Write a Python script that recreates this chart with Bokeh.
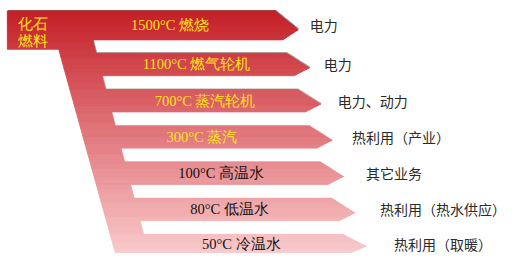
import numpy as np
from bokeh.plotting import figure
from bokeh.models import Range1d
from bokeh.core.properties import value
from bokeh.embed import file_html
from bokeh.resources import INLINE

# ---------------- data ----------------
source_name = ["化石", "燃料"]
temps = ["1500°C", "1100°C", "700°C", "300°C", "100°C", "80°C", "50°C"]
processes = ["燃烧", "燃气轮机", "蒸汽轮机", "蒸汽", "高温水", "低温水", "冷温水"]
uses = ["电力", "电力", "电力、动力", "热利用（产业）", "其它业务", "热利用（热水供应）", "热利用（取暖）"]

n = len(temps)

# ---------------- layout (reference-pixel units, y downward) ----------------
SHAPE_TOP, SHAPE_BOTTOM = 11.0, 268.0
BOX_LEFT, BOX_RIGHT, BOX_BOTTOM = 7.0, 60.0, 52.0
PITCH = 38.5


def band_top(i):
    return SHAPE_TOP if i == 0 else 56.0 + PITCH * (i - 1)


def band_bot(i):
    if i == 0:
        return 42.0
    return min(band_top(i) + 24.0, SHAPE_BOTTOM)


def tip_x(i):
    return 307.0 + 11.7 * i


def tip_y(i):
    return band_top(i) + 0.65 * (band_bot(i) - band_top(i))


def trunk_left(y):
    return BOX_RIGHT + 0.27 * (y - BOX_BOTTOM)


def trunk_right(y):
    return 95.0 + 0.255 * (y - 42.0)


def arrow_right(i, y):
    t, b, ty, tx = band_top(i), band_bot(i), tip_y(i), tip_x(i)
    tr, br = tx - 24.0, tx - 16.0
    if y <= ty:
        return tr + (tx - tr) * (y - t) / (ty - t)
    return tx + (br - tx) * (y - ty) / (b - ty)


breaks = set(np.arange(SHAPE_TOP, SHAPE_BOTTOM + 0.01, 1.0).tolist())
breaks.add(BOX_BOTTOM)
for i in range(n):
    breaks.update([band_top(i), band_bot(i), tip_y(i)])
ys_b = sorted(b for b in breaks if SHAPE_TOP <= b <= SHAPE_BOTTOM)

c_top = np.array([200, 30, 38], dtype=float)
c_bot = np.array([249, 201, 203], dtype=float)

xs_list, ys_list, colors, sh_xs, sh_ys, sh_alpha = [], [], [], [], [], []
for y0, y1 in zip(ys_b[:-1], ys_b[1:]):
    if y1 - y0 < 1e-6:
        continue
    ym = 0.5 * (y0 + y1)
    if ym < BOX_BOTTOM:
        L = lambda y: BOX_LEFT
    else:
        L = trunk_left
    band = None
    for i in range(n):
        if band_top(i) <= ym <= band_bot(i):
            band = i
            break
    if band is None:
        R = trunk_right
    else:
        R = (lambda bi: (lambda y: arrow_right(bi, y)))(band)
    px = [L(y0), R(y0), R(y1), L(y1)]
    py = [y0, y0, y1, y1]
    xs_list.append(px)
    ys_list.append(py)
    t = (ym - SHAPE_TOP) / (SHAPE_BOTTOM - SHAPE_TOP)
    c = c_top + t * (c_bot - c_top)
    colors.append("#%02x%02x%02x" % tuple(int(round(v)) for v in c))
    sh_xs.append([v + 1.0 for v in px])
    sh_ys.append([v - 1.0 for v in py])
    sh_alpha.append(max(0.0, 0.8 * (1 - (ym - SHAPE_TOP) / 150.0)))

p = figure(width=508, height=255, x_range=Range1d(0, 524), y_range=Range1d(271, 0),
           toolbar_location=None, output_backend="svg", min_border=0,
           x_axis_location=None, y_axis_location=None)
p.grid.visible = False
p.outline_line_color = None
p.background_fill_color = "white"

p.patches(xs=sh_xs, ys=sh_ys, fill_color="#3a3a3a", fill_alpha=sh_alpha, line_color=None)
p.patches(xs=xs_list, ys=ys_list, fill_color=colors, line_color=colors, line_width=0.6)

YELLOW = "#FFE21C"
FS = "14.5px"
# source label
p.text(x=[18, 18], y=[25, 43], text=source_name, text_font=value("Liberation Serif"),
       text_font_size=FS, text_color=YELLOW, text_baseline="middle", text_align="left")

centers = [0.5 * (band_top(i) + band_bot(i)) if i == 0 else band_top(i) + 12.0 for i in range(n)]
centers[-1] -= 2.0
band_labels = [f"{t} {q}" for t, q in zip(temps, processes)]
label_x = [134.6 + 12.2 * i for i in range(n)]
label_colors = [YELLOW if i < 4 else "#111111" for i in range(n)]
p.text(x=label_x, y=centers, text=band_labels, text_font=value("Liberation Serif"),
       text_font_size=FS, text_color=label_colors, text_baseline="middle", text_align="left")

use_x = [319 + 14.5 * i for i in range(n)]
p.text(x=use_x, y=centers, text=uses, text_font=value("Noto Sans CJK SC"),
       text_font_size="14px", text_color="#2a2a2a", text_baseline="middle", text_align="left")

open("out.html", "w").write(file_html(p, INLINE))
